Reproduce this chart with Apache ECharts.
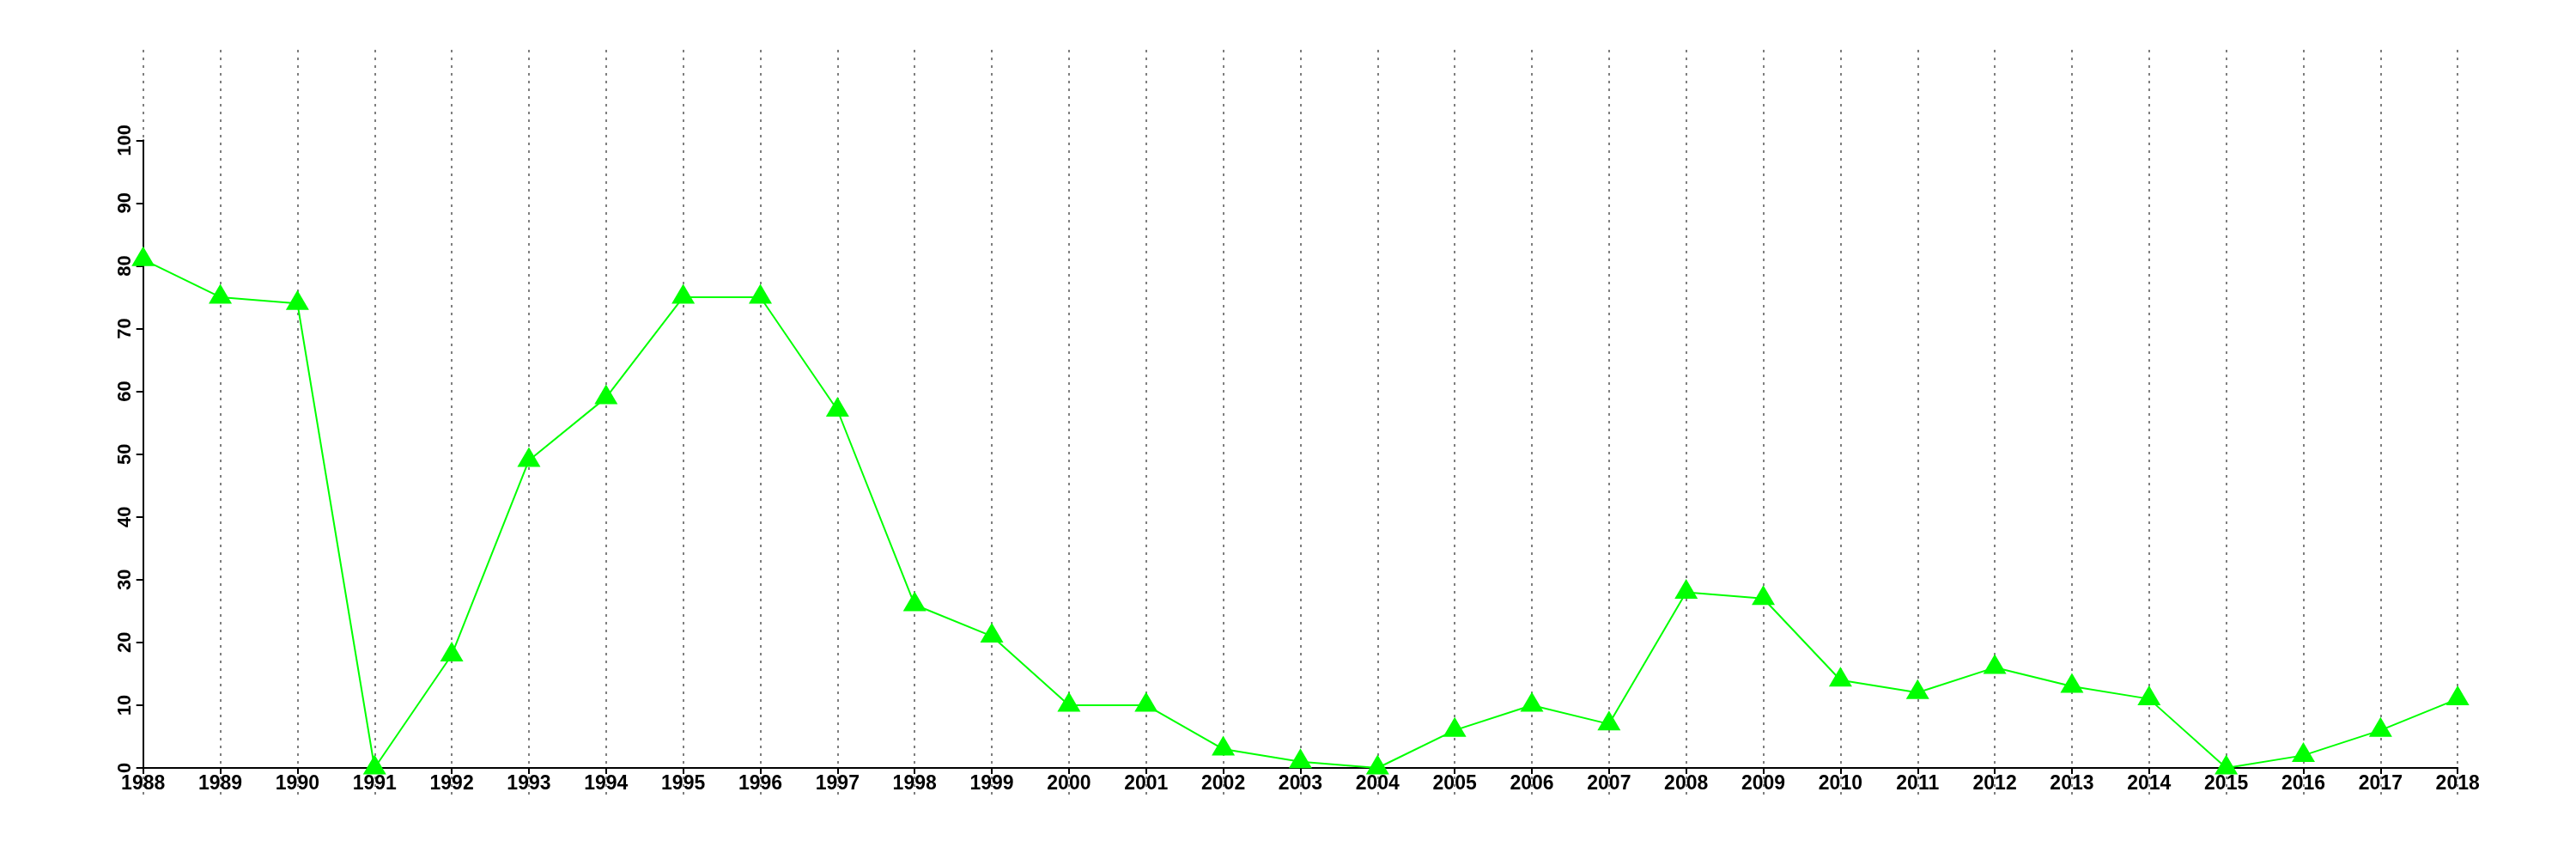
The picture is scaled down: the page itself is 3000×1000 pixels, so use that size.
<!DOCTYPE html>
<html>
<head>
<meta charset="utf-8">
<script src="https://cdn.jsdelivr.net/npm/echarts@6/dist/echarts.min.js"></script>
<style>
html,body{margin:0;padding:0;background:#fff;}
#c{width:3000px;height:1000px;}
</style>
</head>
<body>
<div id="c"></div>
<script>
const years = [1988,1989,1990,1991,1992,1993,1994,1995,1996,1997,1998,1999,2000,2001,2002,2003,2004,2005,2006,2007,2008,2009,2010,2011,2012,2013,2014,2015,2016,2017,2018];
const values = [81,75,74,0,18,49,59,75,75,57,26,21,10,10,3,1,0,6,10,7,28,27,14,12,16,13,11,0,2,6,11];
const yTicksMin = 0, yTicksMax = 100, yTickStep = 10;

const chart = echarts.init(document.getElementById('c'), null, {renderer: 'canvas'});
const font = '"Liberation Sans", Arial, Helvetica, sans-serif';
const seriesData = years.map((y, i) => [y, values[i]]);

chart.setOption({
  animation: false,
  backgroundColor: '#ffffff',
  grid: [
    {left: 166.7, right: 137.8, top: 58, bottom: 74},
    {left: 166.7, right: 137.8, top: 163.3, bottom: 106}
  ],
  xAxis: [
    {
      gridIndex: 0, type: 'value', min: years[0], max: years[years.length-1], interval: 1,
      axisLine: {show: false}, axisTick: {show: false}, axisLabel: {show: false},
      splitLine: {show: true, lineStyle: {color: '#7f7f7f', width: 2, type: [3, 6]}}
    },
    {
      gridIndex: 1, type: 'value', min: years[0], max: years[years.length-1], interval: 1,
      axisLine: {show: true, onZero: false, lineStyle: {color: '#000', width: 2}},
      axisTick: {show: true, length: 7, lineStyle: {color: '#000', width: 2}},
      axisLabel: {show: true, color: '#000', fontFamily: font, fontWeight: 'bold', fontSize: 23, margin: 7,
        formatter: v => String(v)},
      splitLine: {show: false}
    }
  ],
  yAxis: [
    {
      gridIndex: 0, type: 'value', min: -4.4, max: 114.4,
      axisLine: {show: false}, axisTick: {show: false}, axisLabel: {show: false}, splitLine: {show: false}
    },
    {
      gridIndex: 1, type: 'value', min: yTicksMin, max: yTicksMax, interval: yTickStep,
      axisLine: {show: true, onZero: false, lineStyle: {color: '#000', width: 2}},
      axisTick: {show: true, length: 8, lineStyle: {color: '#000', width: 2}},
      axisLabel: {show: true, color: '#000', fontFamily: font, fontWeight: 'bold', fontSize: 22, margin: 10, rotate: 90,
        formatter: v => String(v)},
      splitLine: {show: false}
    }
  ],
  series: [
    {
      type: 'line',
      xAxisIndex: 1, yAxisIndex: 1,
      data: seriesData,
      clip: false,
      symbol: 'triangle',
      symbolSize: [27, 23],
      symbolOffset: [0, -4],
      showAllSymbol: true,
      lineStyle: {color: '#00ff00', width: 2},
      itemStyle: {color: '#00ff00', borderWidth: 0},
      z: 5
    }
  ]
});
</script>
</body>
</html>
